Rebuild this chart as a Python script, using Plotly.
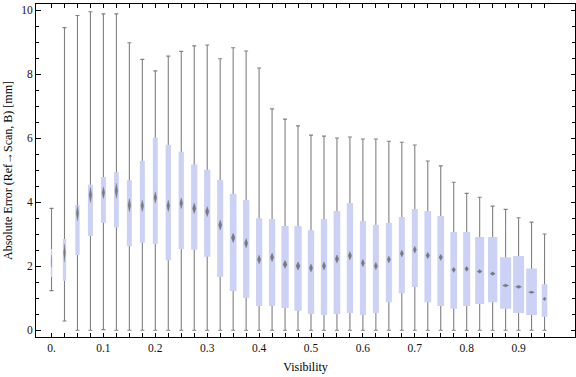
import plotly.graph_objects as go

# ---- data ----
visibility = [0.000, 0.025, 0.050, 0.075, 0.100, 0.125, 0.150, 0.175, 0.200, 0.225,
              0.250, 0.275, 0.300, 0.325, 0.350, 0.375, 0.400, 0.425, 0.450, 0.475,
              0.500, 0.525, 0.550, 0.575, 0.600, 0.625, 0.650, 0.675, 0.700, 0.725,
              0.750, 0.775, 0.800, 0.825, 0.850, 0.875, 0.900, 0.925, 0.950]

whisker_low = [1.24, 0.29, 0.00, 0.00, 0.02, 0.00, 0.00, 0.00, 0.00, 0.00,
               0.00, 0.00, 0.00, 0.00, 0.00, 0.00, 0.00, 0.00, 0.00, 0.00,
               0.00, 0.00, 0.00, 0.00, 0.00, 0.00, 0.00, 0.00, 0.00, 0.00,
               0.00, 0.00, 0.00, 0.00, 0.00, 0.00, 0.00, 0.00, 0.00]

q1 = [1.67, 1.55, 2.35, 2.95, 3.36, 3.21, 2.63, 2.74, 2.70, 2.19,
      2.54, 2.52, 2.30, 1.67, 1.23, 1.01, 0.76, 0.76, 0.70, 0.61,
      0.51, 0.48, 0.51, 0.54, 0.48, 0.54, 0.88, 1.16, 1.35, 0.88,
      0.76, 0.67, 0.76, 0.82, 0.88, 0.67, 0.54, 0.48, 0.42]

median = [2.16, 2.42, 3.66, 4.23, 4.30, 4.36, 3.91, 3.89, 4.15, 3.89,
          3.97, 3.81, 3.71, 3.29, 2.89, 2.72, 2.21, 2.28, 2.06, 2.01,
          1.95, 2.01, 2.23, 2.33, 2.10, 2.01, 2.21, 2.40, 2.52, 2.34,
          2.28, 1.89, 1.92, 1.84, 1.77, 1.40, 1.36, 1.19, 0.98]

q3 = [2.54, 2.85, 3.92, 4.55, 4.79, 4.94, 4.69, 5.30, 6.02, 5.80,
      5.58, 5.18, 5.02, 4.70, 4.26, 4.07, 3.50, 3.48, 3.26, 3.26,
      3.13, 3.48, 3.73, 3.98, 3.42, 3.30, 3.35, 3.54, 3.79, 3.73,
      3.57, 3.07, 3.07, 2.92, 2.92, 2.28, 2.32, 1.93, 1.44]

whisker_high = [3.81, 9.46, 9.84, 9.96, 9.89, 9.89, 8.99, 8.47, 8.11, 8.57,
                8.72, 8.89, 8.92, 8.49, 8.83, 8.73, 8.20, 6.92, 6.60, 6.39,
                6.10, 6.07, 6.01, 6.04, 5.98, 5.98, 5.91, 5.88, 5.79, 5.29,
                5.14, 4.63, 4.28, 4.16, 3.88, 3.78, 3.52, 3.38, 3.01]

# median confidence half-height (diamond) in mm
median_ci = [0.19, 0.28, 0.24, 0.24, 0.19, 0.24, 0.21, 0.18, 0.18, 0.18,
             0.17, 0.17, 0.16, 0.16, 0.15, 0.15, 0.14, 0.14, 0.13, 0.13,
             0.13, 0.13, 0.13, 0.13, 0.12, 0.12, 0.11, 0.11, 0.11, 0.10,
             0.10, 0.08, 0.08, 0.06, 0.06, 0.05, 0.05, 0.04, 0.06]

# relative box widths (sample size), in visibility units
box_width = [0.0025, 0.0064, 0.0083, 0.0096, 0.0096, 0.0093, 0.0096, 0.0096, 0.0096, 0.0102,
             0.0102, 0.0121, 0.0121, 0.0116, 0.0129, 0.0121, 0.0121, 0.0121, 0.0141, 0.0141,
             0.0121, 0.0121, 0.0129, 0.0121, 0.0116, 0.0116, 0.0116, 0.0116, 0.0116, 0.0129,
             0.0129, 0.0129, 0.0135, 0.0173, 0.0179, 0.0212, 0.0212, 0.0206, 0.0110]

x_labels = {0.0: "0.", 0.1: "0.1", 0.2: "0.2", 0.3: "0.3", 0.4: "0.4",
            0.5: "0.5", 0.6: "0.6", 0.7: "0.7", 0.8: "0.8", 0.9: "0.9"}

# ---- styles ----
BOX_COLOR = "rgb(204,210,245)"
WHISKER_COLOR = "#808080"
DIAMOND_COLOR = "rgba(105,105,105,0.85)"
FONT = "Liberation Serif, Times New Roman, serif"

fig = go.Figure()

# whiskers with caps (drawn first so boxes cover them)
fig.add_trace(go.Scatter(
    x=visibility, y=whisker_low, mode="markers",
    marker=dict(size=1, opacity=0),
    error_y=dict(type="data", symmetric=False,
                 array=[h - l for h, l in zip(whisker_high, whisker_low)],
                 arrayminus=[0] * len(visibility),
                 color=WHISKER_COLOR, thickness=1.1, width=2),
    hoverinfo="skip"))

# boxes
bx, by = [], []
for p, w, a, b in zip(visibility, box_width, q1, q3):
    bx += [p - w / 2, p + w / 2, p + w / 2, p - w / 2, p - w / 2, None]
    by += [a, a, b, b, a, None]
fig.add_trace(go.Scatter(x=bx, y=by, mode="lines", fill="toself",
                         fillcolor=BOX_COLOR, line=dict(width=0),
                         hoverinfo="skip"))

# median diamonds
dx, dy = [], []
for p, w, m, h in zip(visibility, box_width, median, median_ci):
    hw = w * 0.28
    dx += [p - hw, p, p + hw, p, p - hw, None]
    dy += [m, m + h, m, m - h, m, None]
fig.add_trace(go.Scatter(x=dx, y=dy, mode="lines", fill="toself",
                         fillcolor=DIAMOND_COLOR, line=dict(width=0.6, color="rgba(120,120,120,0.5)"),
                         hoverinfo="skip"))

tickvals = visibility
ticktext = [x_labels.get(round(v, 3), "") for v in visibility]

fig.update_layout(
    width=576, height=377,
    margin=dict(l=36, r=1, t=4, b=40),
    plot_bgcolor="white", paper_bgcolor="white",
    showlegend=False,
    font=dict(family=FONT, color="black"),
    xaxis=dict(
        range=[-0.0299, 1.0087],
        tickmode="array", tickvals=tickvals, ticktext=ticktext,
        ticks="inside", ticklen=4, tickwidth=1, tickcolor="black",
        showline=True, linecolor="black", linewidth=1, mirror="allticks",
        showgrid=False, zeroline=False,
        tickfont=dict(family=FONT, size=11.5, color="#111"),
        title=dict(text="Visibility", font=dict(family=FONT, size=12), standoff=9),
    ),
    yaxis=dict(
        range=[-0.21, 10.2],
        tick0=0, dtick=2,
        ticks="inside", ticklen=4.5, tickwidth=1, tickcolor="black",
        minor=dict(dtick=0.5, ticks="inside", ticklen=2.7, tickcolor="black", tickwidth=1),
        showline=True, linecolor="black", linewidth=1, mirror="allticks",
        showgrid=False, zeroline=False,
        tickfont=dict(family=FONT, size=11.5, color="#111"),
        title=dict(text="Absolute Error (Ref\u2192Scan, B) [mm]", font=dict(family=FONT, size=12), standoff=6),
    ),
)

fig.write_html("out.html", config={"displayModeBar": False},
               post_script="document.body.style.margin='0';document.body.style.padding='0';")
